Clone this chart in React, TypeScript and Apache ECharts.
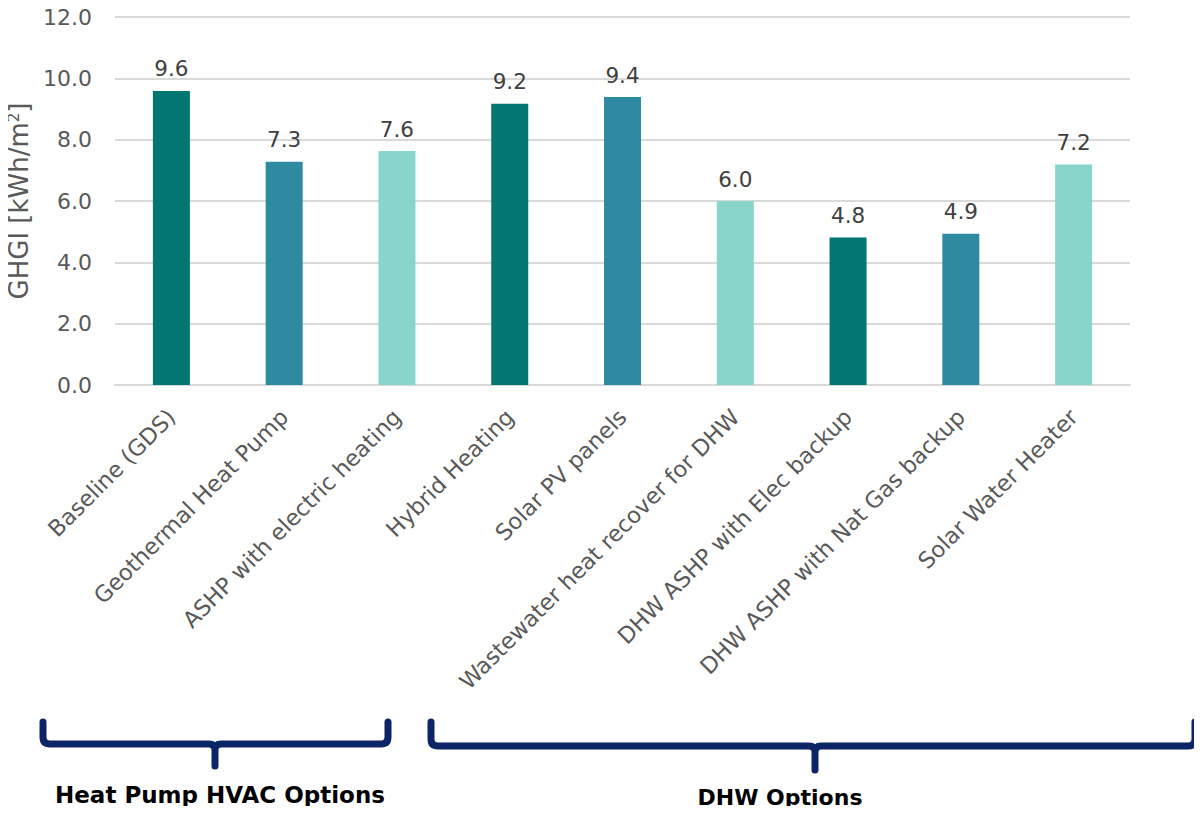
import React, { useEffect, useRef } from "react";
import * as echarts from "echarts";

const categories = [
  "Baseline (GDS)",
  "Geothermal Heat Pump",
  "ASHP with electric heating",
  "Hybrid Heating",
  "Solar PV panels",
  "Wastewater heat recover for DHW",
  "DHW ASHP with Elec backup",
  "DHW ASHP with Nat Gas backup",
  "Solar Water Heater",
];
const values = [9.59, 7.28, 7.63, 9.17, 9.39, 6.0, 4.81, 4.93, 7.19];
const barColors = ["#037672", "#2E8AA0", "#87D6C9", "#037672", "#2E8AA0", "#87D6C9", "#037672", "#2E8AA0", "#87D6C9"];
const groupLabels = ["Heat Pump HVAC Options", "DHW Options"];

const FONT = "'DejaVu Sans', sans-serif";
const NAVY = "#0C2566";

export default function App() {
  const ref = useRef<HTMLDivElement>(null);
  useEffect(() => {
    if (!ref.current) return;
    echarts.graphic.registerShape(
      "brace1",
      echarts.graphic.extendPath(
        "M43 722 L43 737 Q43 744 50 744 L209 744 Q215 744 215 750 L215 766 M215 750 Q215 744 221 744 L381 744 Q388 744 388 737 L388 722",
        {}
      )
    );
    echarts.graphic.registerShape(
      "brace2",
      echarts.graphic.extendPath(
        "M431 722 L431 739 Q431 746 438 746 L809 746 Q815 746 815 752 L815 770 M815 752 Q815 746 821 746 L1188 746 Q1195 746 1195 739 L1195 722",
        {}
      )
    );
    const chart = echarts.init(ref.current, null, { renderer: "svg" });
    chart.setOption({
      animation: false,
      grid: { left: 115, right: 72, top: 17, bottom: 429, containLabel: false, outerBoundsMode: "none" },
      xAxis: {
        type: "category",
        data: categories,
        axisLine: { lineStyle: { color: "#D9D9D9", width: 2 } },
        axisTick: { show: false },
        axisLabel: {
          rotate: 45,
          interval: 0,
          color: "#595959",
          fontFamily: FONT,
          fontSize: 22.5,
          margin: 28,
        },
      },
      yAxis: {
        type: "value",
        min: 0,
        max: 12,
        interval: 2,
        name: "GHGI [kWh/m{sup|2}]",
        nameLocation: "middle",
        nameGap: 77,
        nameRotate: 90,
        nameTextStyle: {
          color: "#595959",
          fontFamily: FONT,
          fontSize: 26,
          rich: {
            sup: { fontSize: 15, verticalAlign: "top", color: "#595959", fontFamily: FONT, padding: [0, 0, 11, 0] },
          },
        },
        axisLine: { show: false },
        axisTick: { show: false },
        splitLine: { lineStyle: { color: "#D9D9D9", width: 2 } },
        axisLabel: {
          color: "#595959",
          fontFamily: FONT,
          fontSize: 22,
          margin: 23,
          formatter: (v: number) => v.toFixed(1),
        },
      },
      series: [
        {
          type: "bar",
          barWidth: 37,
          data: values.map((v, i) => ({ value: v, itemStyle: { color: barColors[i] } })),
          label: {
            show: true,
            position: "top",
            distance: 11,
            color: "#404040",
            fontFamily: FONT,
            fontSize: 21.5,
            formatter: (p: any) => Number(p.value).toFixed(1),
          },
        },
      ],
      graphic: [
        { type: "brace1", style: { stroke: NAVY, lineWidth: 7, fill: null, lineCap: "round", lineJoin: "round" } },
        { type: "brace2", style: { stroke: NAVY, lineWidth: 7, fill: null, lineCap: "round", lineJoin: "round" } },
        {
          type: "text",
          x: 220,
          y: 795,
          style: {
            text: groupLabels[0],
            fill: "#000",
            font: `bold 23px ${FONT}`,
            align: "center",
            verticalAlign: "middle",
          },
        },
        {
          type: "text",
          x: 780,
          y: 797,
          style: {
            text: groupLabels[1],
            fill: "#000",
            font: `bold 22px ${FONT}`,
            align: "center",
            verticalAlign: "middle",
          },
        },
      ],
    });
    return () => chart.dispose();
  }, []);
  return <div ref={ref} style={{ width: 1202, height: 814, margin: -8 }} />;
}
